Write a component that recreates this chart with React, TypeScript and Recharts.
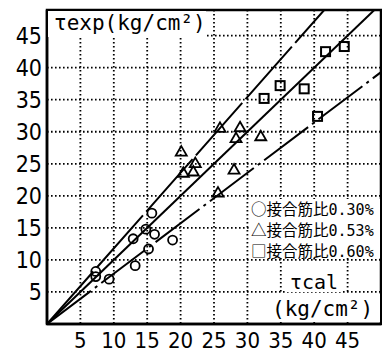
import {
  ScatterChart, Scatter, XAxis, YAxis, CartesianGrid, ReferenceArea,
} from "recharts";

// 接合筋比 0.30 / 0.53 / 0.60 %  -> (tcal, texp) in kg/cm2
const ratio030 = [
  { x: 7.3, y: 8.2 }, { x: 7.3, y: 7.4 }, { x: 9.3, y: 7.0 },
  { x: 13.2, y: 9.1 }, { x: 12.9, y: 13.3 }, { x: 14.8, y: 14.8 },
  { x: 15.2, y: 11.7 }, { x: 15.7, y: 17.3 }, { x: 16.1, y: 14.0 },
  { x: 18.8, y: 13.1 },
];
const ratio053 = [
  { x: 20.1, y: 26.9 }, { x: 20.4, y: 23.6 }, { x: 21.9, y: 23.8 },
  { x: 22.2, y: 25.1 }, { x: 25.6, y: 20.5 }, { x: 25.9, y: 30.6 },
  { x: 28.0, y: 24.1 }, { x: 28.3, y: 29.0 }, { x: 28.9, y: 30.7 },
  { x: 32.0, y: 29.3 },
];
const ratio060 = [
  { x: 32.5, y: 35.2 }, { x: 34.9, y: 37.2 }, { x: 38.5, y: 36.7 },
  { x: 40.5, y: 32.4 }, { x: 41.7, y: 42.5 }, { x: 44.5, y: 43.3 },
];

// regression lines through the origin
const lineUpper = [{ x: 0, y: 0 }, { x: 41.5, y: 49 }];
const lineMid = [{ x: 0, y: 0 }, { x: 49, y: 49 }];
const lineLower = [{ x: 0, y: 0 }, { x: 50, y: 39.3 }];

const xTicks = [5, 10, 15, 20, 25, 30, 35, 40, 45];
const yTicks = [5, 10, 15, 20, 25, 30, 35, 40, 45];

const legendRows = [
  { mark: "○", text: "0.30%" },
  { mark: "△", text: "0.53%" },
  { mark: "□", text: "0.60%" },
];

const tickFont = "'DejaVu Sans Condensed', 'DejaVu Sans', sans-serif";
const mono = "'DejaVu Sans Mono', 'Liberation Mono', monospace";
const cjk = "'Noto Sans CJK JP', 'Noto Sans CJK SC', sans-serif";

const Circle = (p: any) => (
  <circle cx={p.cx} cy={p.cy} r={4.5} fill="none" stroke="#000" strokeWidth={1.8} />
);
const Tri = (p: any) => (
  <polygon
    points={`${p.cx},${p.cy - 5.5} ${p.cx + 5.5},${p.cy + 4} ${p.cx - 5.5},${p.cy + 4}`}
    fill="none" stroke="#000" strokeWidth={1.8}
  />
);
const Sq = (p: any) => (
  <rect x={p.cx - 4.5} y={p.cy - 4.5} width={9} height={9} fill="none" stroke="#000" strokeWidth={2} />
);
const NoDot = () => <g />;

function Box({ left, top, width, height, children }: any) {
  return (
    <div style={{ position: "absolute", left, top, width, height, background: "#fff" }}>
      {children}
    </div>
  );
}

export default function App() {
  return (
    <div style={{ position: "absolute", left: 0, top: 0, width: 382, height: 352, background: "#fff" }}>
      <ScatterChart width={382} height={352} margin={{ top: 10, right: 1, bottom: 0, left: 0 }}>
        <CartesianGrid stroke="#000" strokeWidth={1.8} strokeDasharray="1.6 2.4" />
        <XAxis
          type="number" dataKey="x" domain={[0, 50]} ticks={xTicks} height={28}
          tickLine={false} tickSize={0} tickMargin={8} axisLine={{ stroke: "#000", strokeWidth: 2.5 }}
          tick={{ fill: "#000", fontSize: 22, fontFamily: tickFont }} allowDataOverflow
        />
        <YAxis
          type="number" dataKey="y" domain={[0, 49]} ticks={yTicks} width={47}
          tickLine={false} tickSize={0} tickMargin={5} axisLine={{ stroke: "#000", strokeWidth: 2.5 }}
          tick={{ fill: "#000", fontSize: 23, fontFamily: tickFont }} allowDataOverflow
        />
        <ReferenceArea x1={0} x2={50} y1={0} y2={49} fill="none" stroke="#000" strokeWidth={2.5} />
        <Scatter data={lineUpper} shape={NoDot} isAnimationActive={false}
          line={{ stroke: "#000", strokeWidth: 2, strokeDasharray: "70 5" }} />
        <Scatter data={lineMid} shape={NoDot} isAnimationActive={false}
          line={{ stroke: "#000", strokeWidth: 2 }} />
        <Scatter data={lineLower} shape={NoDot} isAnimationActive={false}
          line={{ stroke: "#000", strokeWidth: 2, strokeDasharray: "55 5 3 5" }} />
        <Scatter data={ratio030} shape={Circle} isAnimationActive={false} />
        <Scatter data={ratio053} shape={Tri} isAnimationActive={false} />
        <Scatter data={ratio060} shape={Sq} isAnimationActive={false} />
      </ScatterChart>

      <Box left={48} top={11} width={158} height={26}>
        <span style={{ position: "absolute", left: 6, top: 2, fontFamily: mono, fontSize: 21, lineHeight: 1, color: "#000", whiteSpace: "nowrap" }}>
          τexp(kg/cm²)
        </span>
      </Box>

      <Box left={250} top={199} width={130} height={59}>
        <div style={{ position: "absolute", left: 1, top: 0, lineHeight: "19px", color: "#000", whiteSpace: "nowrap" }}>
          {legendRows.map((r) => (
            <div key={r.text}>
              <span style={{ fontFamily: cjk, fontSize: 15.5 }}>{r.mark}接合筋比</span>
              <span style={{ fontFamily: mono, fontSize: 15 }}>{r.text}</span>
            </div>
          ))}
        </div>
      </Box>

      <Box left={285} top={262} width={58} height={30}>
        <span style={{ position: "absolute", left: 5, top: 10, fontFamily: mono, fontSize: 20, lineHeight: 1, color: "#000" }}>
          τcal
        </span>
      </Box>

      <Box left={268} top={294} width={112} height={28}>
        <span style={{ position: "absolute", left: 4, top: 5, fontFamily: mono, fontSize: 21, lineHeight: 1, color: "#000", whiteSpace: "nowrap" }}>
          (kg/cm²)
        </span>
      </Box>
    </div>
  );
}
